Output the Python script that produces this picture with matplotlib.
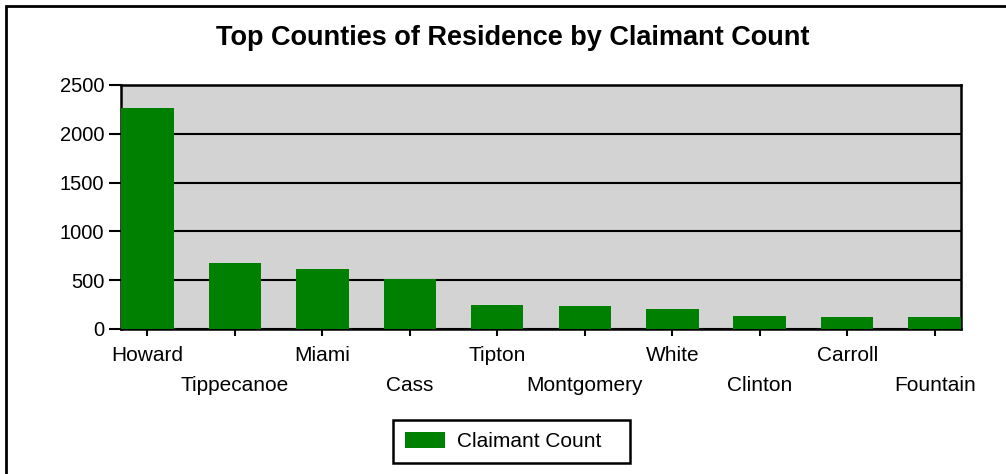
# Bar chart: top counties of residence by claimant count

import matplotlib
matplotlib.use('Agg')
import matplotlib.pyplot as plt
import matplotlib.transforms as mtransforms
from matplotlib.patches import Rectangle
import numpy as np

counties = ['Howard', 'Tippecanoe', 'Miami', 'Cass', 'Tipton',
            'Montgomery', 'White', 'Clinton', 'Carroll', 'Fountain']
claimants = [2262, 673, 612, 509, 246, 232, 202, 133, 126, 120]
yticks = [0, 500, 1000, 1500, 2000, 2500]

plt.rcParams['font.family'] = ['Liberation Sans', 'DejaVu Sans']

W, H = 1006, 474
fig = plt.figure(figsize=(W / 100, H / 100), dpi=100)
ax = fig.add_axes([121 / W, (H - 329) / H, 840 / W, 244 / H])

x = np.arange(len(counties))
bars = ax.bar(x, claimants, width=0.6, color='#008000', zorder=3)
ax.set_facecolor('#d3d3d3')
ax.set_xlim(-0.3, len(counties) - 0.7)
ax.set_ylim(0, 2500)
ax.set_yticks(yticks)
ax.yaxis.grid(True, color='black', linewidth=1.5, zorder=1)
ax.set_axisbelow(True)
for s in ax.spines.values():
    s.set_linewidth(1.8)
    s.set_color('black')

ax.set_xticks(x)
ax.set_xticklabels(counties)
ax.tick_params(axis='x', labelsize=15, length=5, width=1.5, pad=7)
ax.tick_params(axis='y', labelsize=14.5, length=9, width=1.5, pad=3)

# stagger every other label down one row
offset = mtransforms.ScaledTranslation(0, -30 / 100, fig.dpi_scale_trans)
for i, lbl in enumerate(ax.get_xticklabels()):
    if i % 2 == 1:
        lbl.set_transform(lbl.get_transform() + offset)

fig.text(512.5 / W, 1 - 38 / H, 'Top Counties of Residence by Claimant Count',
         ha='center', va='center', fontsize=19.5, fontweight='bold')

leg = fig.legend([bars], ['Claimant Count   '], loc='center',
                 bbox_to_anchor=(511.5 / W, 1 - 441.5 / H),
                 fontsize=15, fancybox=False, edgecolor='black',
                 framealpha=1, handlelength=1.95, handleheight=0.85,
                 handletextpad=0.55, borderpad=0.55, borderaxespad=0)
leg.get_frame().set_linewidth(1.8)

# outer border (left and top visible, rest runs off the image)
fig.add_artist(Rectangle((6 / W, -1), 2, 2 - 6 / H, transform=fig.transFigure,
                         fill=False, edgecolor='black', linewidth=2))

fig.savefig('out.png', dpi=100)
